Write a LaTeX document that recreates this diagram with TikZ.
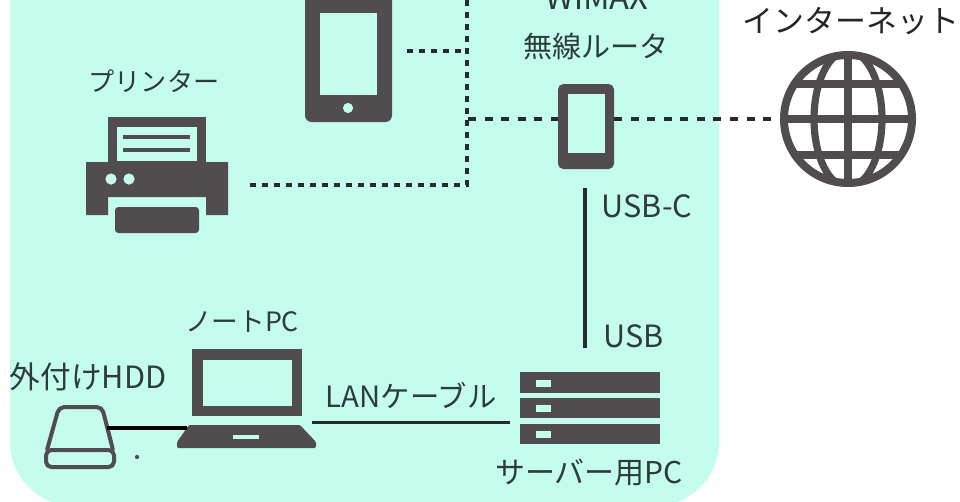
\documentclass[tikz,border=0pt]{standalone}
\usepackage{fontspec}
\setmainfont{Noto Sans CJK JP}
\definecolor{bgteal}{HTML}{C4FDEE}
\definecolor{icon}{HTML}{514D4F}
\definecolor{ink}{HTML}{2E3B3C}
\definecolor{wire}{HTML}{2A2A2A}
\tikzset{
  lab/.style={text=ink,inner sep=0pt,anchor=center},
  fs/.style={lab,font=\fontsize{#1pt}{26pt}\selectfont},
  solidicon/.style={fill=icon,draw=none},
  hole/.style={fill=bgteal,draw=none},
  dashA/.style={draw=wire,line width=2.6pt,dash pattern=on 6pt off 6.4pt},
  dashB/.style={draw=wire,line width=2.3pt,dash pattern=on 4.5pt off 4.5pt},
  wireline/.style={draw=wire,line width=2.4pt},
  globeline/.style={draw=icon,line width=5.4pt},
}
\begin{document}
\begin{tikzpicture}[x=0.75pt,y=-0.75pt]
\useasboundingbox (0,0) rectangle (960,501);
\clip (0,0) rectangle (960,501);
\fill[white] (0,0) rectangle (960,501);
\fill[bgteal,rounded corners=48pt] (10,-80) rectangle (719,506);

% tablet
\fill[solidicon,rounded corners=5pt] (305,-30) rectangle (392,122);
\fill[hole] (320,13) rectangle (377,95);
\fill[hole] (348,108) circle (3.8pt);

% printer
\fill[solidicon] (108,117) rectangle (206,165);
\fill[hole] (117,127) rectangle (197,161);
\fill[solidicon] (123,135) rectangle (190,139);
\fill[solidicon] (123,148) rectangle (190,152);
\fill[solidicon] (86,162) -- (228,162) -- (228,215) -- (206,215) -- (206,197) -- (108,197) -- (108,215) -- (86,215) -- cycle;
\fill[hole] (111,179) circle (4.2pt);
\fill[hole] (129,179) circle (4.2pt);
\fill[solidicon,rounded corners=2.5pt] (115,207) rectangle (199,233);

% router
\node[solidicon,rounded corners=4pt,minimum width=42pt,minimum height=63.75pt,inner sep=0pt] (router) at (586,126.5) {};
\fill[hole] (568,94) rectangle (605,153);

% globe
\node[circle,draw=icon,line width=6pt,fill=white,minimum size=96pt,inner sep=0pt] (globe) at (848,119) {};
\begin{scope}
\clip (848,119) circle (48pt);
\draw[globeline] (848,119) ellipse (25.5pt and 51pt);
\draw[globeline] (848,50) -- (848,188);
\draw[globeline] (780,119) -- (916,119);
\draw[globeline] (785,84) -- (911,84);
\draw[globeline] (785,155) -- (911,155);
\end{scope}

% HDD
\draw[icon,line width=3pt,line join=round,rounded corners=4pt] (47,450) -- (59,407) -- (102,407) -- (113,450);
\draw[icon,line width=3pt,rounded corners=4pt] (46,450) rectangle (114,467);
\fill[icon] (137,457) circle (1.6pt);

% laptop
\fill[solidicon] (192,349) rectangle (302,416);
\fill[hole] (203,360) rectangle (292,406);
\fill[solidicon,rounded corners=1pt] (189,425) -- (300,425) -- (316,442) -- (316,448) -- (177,448) -- (177,442) -- cycle;
\fill[hole] (233,435) rectangle (259,439);

% server
\fill[solidicon] (520,372) rectangle (660,393);
\fill[solidicon] (520,398) rectangle (660,418);
\fill[solidicon] (520,424) rectangle (660,444);
\fill[hole] (536,379.5) rectangle (551,386.5);
\fill[hole] (536,404.5) rectangle (551,411.5);
\fill[hole] (536,430.5) rectangle (551,437.5);

% anchors of the connectors
\coordinate (tabletEnd) at (407,51);
\coordinate (busTap) at (461,51);
\coordinate (busTop) at (467,0);
\coordinate (busCorner) at (467,185);
\coordinate (printerEnd) at (244,185);
\coordinate (routerTap) at (468,119);
\coordinate (usbTop) at (585,188);
\coordinate (usbBottom) at (585,348);
\coordinate (hddEnd) at (107,428);
\coordinate (laptopIn) at (187,428);
\coordinate (laptopOut) at (312,422.5);
\coordinate (serverIn) at (510,422.5);

% connectors
\draw[dashB] (tabletEnd) -- (busTap);
\draw[dashB] (busTop) -- (busCorner) -- (printerEnd);
\draw[dashA] (routerTap) -- (router.west |- routerTap);
\draw[dashA,shorten >=4pt] (router.east |- globe.west) -- (globe.west);
\draw[wireline] (usbTop) -- (usbBottom);
\draw[wireline,line width=2.8pt,black] (hddEnd) -- (laptopIn);
\draw[wireline] (laptopOut) -- (serverIn);

% labels
\node[fs=24.5] (wimax) at (597,-3) {WiMAX};
\node[fs=21.8] (musen) at (596,46) {無線ルータ};
\node[fs=23.2,text=black!85] (inet) at (851,21) {インターネット};
\node[fs=19.6] (printer) at (154,81) {プリンター};
\node[fs=23] (usbc) at (647,206) {USB-C};
\node[fs=23] (usb) at (634,336) {USB};
\node[fs=20] (note) at (242,322) {ノートPC};
\node[fs=23] (hdd) at (88,377) {外付けHDD};
\node[fs=22] (lan) at (411,395) {LANケーブル};
\node[fs=22.5] (serverlab) at (589,472) {サーバー用PC};
\end{tikzpicture}
\end{document}
